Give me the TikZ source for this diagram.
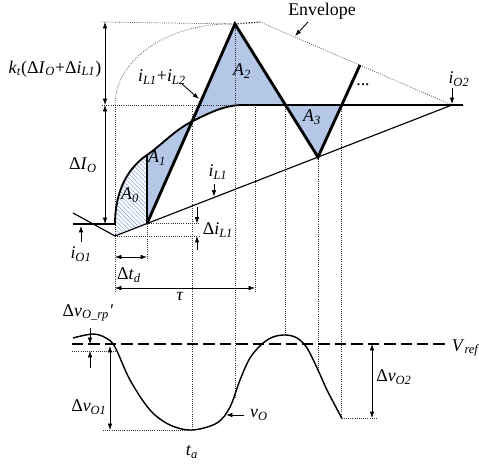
\documentclass[tikz,border=0pt]{standalone}
\usepackage{fontspec}
\setmainfont{Liberation Serif}
\usetikzlibrary{arrows.meta, positioning, calc, patterns}
\definecolor{areablue}{RGB}{180,199,231}
\definecolor{hatchblue}{RGB}{140,172,222}
\newcommand{\iv}[1]{\textit{#1}}
\newcommand{\sbs}[1]{\textsubscript{\textit{#1}}}

\begin{document}
\begin{tikzpicture}[x=0.7pt, y=-0.7pt, >={Latex[length=4.5pt,width=3.2pt]},
    every node/.style={font=\fontsize{12.5}{14}\selectfont, inner sep=0pt},
    guide/.style={densely dotted, line width=0.5pt, black!80},
    wave/.style={line width=1.3pt},
    ramp/.style={line width=2pt, line join=miter},
    dim/.style={<->, line width=0.5pt},
    tick/.style={->, line width=0.5pt}]
    \useasboundingbox (0,0) rectangle (479,465);
    \coordinate (S) at (115,224);
    \coordinate (V) at (115,236);
    \coordinate (B) at (147,223.56);
    \coordinate (M) at (147,155);
    \coordinate (C) at (192,121.5);
    \coordinate (F) at (243,105);
    \coordinate (P) at (235,24);
    \coordinate (X2) at (285.5,105);
    \coordinate (D) at (318,157.1);
    \coordinate (X3) at (341.7,105);
    \coordinate (T) at (360,65);
    \coordinate (E) at (452,105);
    \fill[pattern=north west lines, pattern color=hatchblue] (V) -- (S) .. controls (115,195) and (125,170) .. (M) -- (B) -- cycle;
    \fill[areablue] (M) .. controls (162,144.8) and (174,130.5) .. (C) -- (B) -- cycle;
    \fill[areablue] (C) -- (P) -- (X2) -- (F) .. controls (225,105) and (210,112.5) .. (C) -- cycle;
    \fill[areablue] (X2) -- (D) -- (X3) -- cycle;
    \draw[guide] (102,22) -- (P);
    \draw[guide, line width=0.9pt] (P) -- (260,22);
    \draw[guide] (260,22) -- (E);
    \draw[guide] (102,105) -- (F);
    \draw[guide] (115,105) .. controls (115,59.2) and (169,22) .. (P);
    \draw[guide] (115,105) -- (115,292);
    \draw[guide] (B) -- (147,260);
    \draw[guide] (192,105) -- (192,430);
    \draw[guide] (P) -- (235,397);
    \draw[guide] (255,105) -- (255,292);
    \draw[guide] (X2) -- (285.5,335);
    \draw[guide] (D) -- (318,370);
    \draw[guide] (X3) -- (341.7,418);
    \draw[guide] (B) -- (200,223.56);
    \draw[guide] (V) -- (200,236);
    \draw[guide] (72,351) -- (115,351);
    \draw[guide] (103,430) -- (192,430);
    \draw[guide] (341.7,418) -- (378,418);
    \draw[line width=0.8pt] (73,213) -- (V) -- (E);
    \draw[wave] (73,224) -- (S) .. controls (115,195) and (125,170) .. (M)
        .. controls (162,144.8) and (174,130.5) .. (C)
        .. controls (210,112.5) and (225,105) .. (F) -- (463,105);
    \draw[line width=1pt] (M) -- (B);
    \draw[ramp] (B) -- (P) -- (D) -- (T);
    \draw[dim] (105,22) -- (105,105);
    \draw[dim] (105,105) -- (105,224);
    \draw[dim] (115,257) -- (147,257);
    \draw[dim] (115,288) -- (255,288);
    \draw[tick] (197,207) -- (197,223.56);
    \draw[tick] (197,250) -- (197,236);
    \draw[tick] (81,242) -- (81,226);
    \draw[tick] (452,88) -- (452,104);
    \draw[tick] (214,184) -- (214,196.5);
    \draw[tick, line width=0.6pt] (182,84) -- (199,99);
    \draw[tick, line width=0.6pt] (308,22) -- (295,36);
    \node (kt) at (55,69) {\iv{k}\sbs{t}(Δ\iv{I}\sbs{O}+Δ\iv{i}\sbs{L1})};
    \node (sum) at (162,77) {\iv{i}\sbs{L1}+\iv{i}\sbs{L2}};
    \node (env) at (322,11) {Envelope};
    \node (io2) at (459,79) {\iv{i}\sbs{O2}};
    \node (dots) at (363,85) {...};
    \node (a0) at (130,195) {\iv{A}\sbs{0}};
    \node (a1) at (157,158) {\iv{A}\sbs{1}};
    \node (a2) at (242,71) {\iv{A}\sbs{2}};
    \node (a3) at (312,117) {\iv{A}\sbs{3}};
    \node (dIO) at (83,165) {Δ\iv{I}\sbs{O}};
    \node (iL1) at (218,172) {\iv{i}\sbs{L1}};
    \node (diL1) at (218,230) {Δ\iv{i}\sbs{L1}};
    \node (io1) at (81,254) {\iv{i}\sbs{O1}};
    \node (dtd) at (129,275) {Δ\iv{t}\sbs{d}};
    \node (tau) at (180,296) {\iv{τ}};
    \draw[dash pattern=on 8pt off 3.5pt, line width=1pt] (72,344) -- (447,344);
    \draw[line width=1pt] plot[smooth, tension=0.55] coordinates {(73,338) (93,334) (106,338) (115,347) (130,380) (150,410) (170,425) (192,430) (217,423) (230,407) (240,380) (250,358) (262,344) (273,337) (285.5,335) (297,338) (307,348) (318,370) (327,390) (341.7,418)};
    \draw[tick] (90,328) -- (90,344);
    \draw[tick] (90,368) -- (90,351);
    \draw[dim] (110,346) -- (110,430);
    \draw[dim] (372,344) -- (372,418);
    \draw[tick, line width=0.6pt] (244,415) -- (226,415);
    \node (rp) at (88,313) {Δ\iv{v}\sbs{O\_rp}\textit{′}};
    \node (dvo1) at (89,407) {Δ\iv{v}\sbs{O1}};
    \node (ta) at (192,452) {\iv{t}\sbs{a}};
    \node (vo) at (259,415) {\iv{v}\sbs{O}};
    \node (dvo2) at (394,377) {Δ\iv{v}\sbs{O2}};
    \node (vref) at (466,348) {\iv{V}\sbs{ref}};
\end{tikzpicture}
\end{document}
